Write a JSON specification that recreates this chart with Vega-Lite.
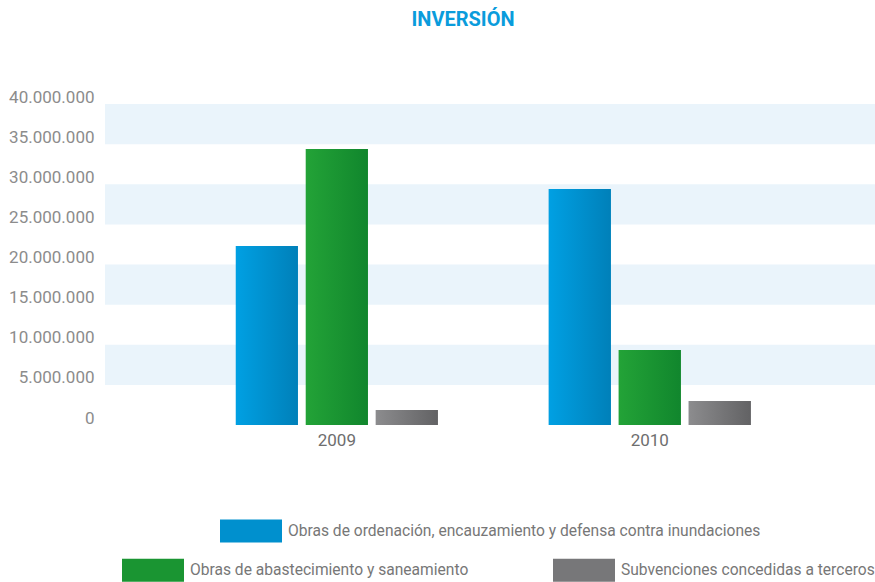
{
  "$schema": "https://vega.github.io/schema/vega-lite/v6.json",
  "width": 770,
  "height": 321,
  "autosize": "none",
  "padding": {"left": 105, "top": 104, "right": 0, "bottom": 157},
  "background": "white",
  "title": {
    "text": "INVERSIÓN",
    "color": "#0A9CDC",
    "fontSize": 20,
    "font": "Roboto",
    "fontWeight": "bold",
    "offset": 58,
    "dx": -27,
    "anchor": "middle",
    "frame": "group"
  },
  "datasets": {
    "inv": [
      {"anio": "2009", "serie": "Obras de ordenación, encauzamiento y defensa contra inundaciones", "valor": 22300000},
      {"anio": "2009", "serie": "Obras de abastecimiento y saneamiento", "valor": 34400000},
      {"anio": "2009", "serie": "Subvenciones concedidas a terceros", "valor": 1870000},
      {"anio": "2010", "serie": "Obras de ordenación, encauzamiento y defensa contra inundaciones", "valor": 29400000},
      {"anio": "2010", "serie": "Obras de abastecimiento y saneamiento", "valor": 9350000},
      {"anio": "2010", "serie": "Subvenciones concedidas a terceros", "valor": 3000000}
    ],
    "bands": [
      {"desde": 5000000, "hasta": 10000000},
      {"desde": 15000000, "hasta": 20000000},
      {"desde": 25000000, "hasta": 30000000},
      {"desde": 35000000, "hasta": 40000000}
    ]
  },
  "layer": [
    {
      "data": {"name": "bands"},
      "mark": {"type": "rect", "color": "#EAF4FB"},
      "encoding": {
        "y": {"field": "desde", "type": "quantitative", "scale": {"domain": [0, 40000000], "nice": false}, "title": null},
        "y2": {"field": "hasta"},
        "x": {"value": 0},
        "x2": {"value": "width"}
      }
    },
    {
      "data": {"name": "inv"},
      "transform": [{"filter": "datum.serie === 'Obras de ordenación, encauzamiento y defensa contra inundaciones'"}],
      "mark": {"type": "bar"},
      "encoding": {
        "x": {"field": "anio", "type": "nominal", "scale": {"paddingInner": 0.3546, "paddingOuter": 0.4076, "align": 0.513}, "axis": {"labelAngle": 0, "domain": false, "ticks": false, "labelColor": "#6E6E6E", "labelFontSize": 17, "labelFont": "Roboto", "labelFontWeight": "normal", "labelPadding": 7, "title": null}},
        "xOffset": {"field": "serie", "type": "nominal", "scale": {"domain": ["Obras de ordenación, encauzamiento y defensa contra inundaciones", "Obras de abastecimiento y saneamiento", "Subvenciones concedidas a terceros"], "paddingInner": 0.114, "paddingOuter": 0}},
        "y": {"field": "valor", "type": "quantitative", "title": null},
        "color": {
          "field": "serie", "type": "nominal",
          "scale": {"domain": ["Obras de ordenación, encauzamiento y defensa contra inundaciones"], "range": ["#0090CE"]},
          "legend": {
            "orient": "none", "legendX": 115, "legendY": 396, "direction": "horizontal", "title": null,
            "symbolType": "M-1,-0.37H1V0.37H-1Z", "symbolSize": 3844, "symbolStrokeWidth": 0,
            "labelFontSize": 15.6, "labelFont": "Roboto", "labelColor": "#777777", "labelOffset": 6, "labelLimit": 600, "padding": 0
          }
        }
      }
    },
    {
      "data": {"name": "inv"},
      "transform": [{"filter": "datum.serie !== 'Obras de ordenación, encauzamiento y defensa contra inundaciones'"}],
      "mark": {"type": "bar"},
      "encoding": {
        "x": {"field": "anio", "type": "nominal"},
        "xOffset": {"field": "serie", "type": "nominal"},
        "y": {"field": "valor", "type": "quantitative", "title": null},
        "color": {
          "field": "serie", "type": "nominal",
          "scale": {"domain": ["Obras de abastecimiento y saneamiento", "Subvenciones concedidas a terceros"], "range": ["#1A9532", "#777779"]},
          "legend": {
            "orient": "none", "legendX": 17, "legendY": 435, "direction": "horizontal", "title": null,
            "symbolType": "M-1,-0.37H1V0.37H-1Z", "symbolSize": 3844, "symbolStrokeWidth": 0,
            "labelFontSize": 15.6, "labelFont": "Roboto", "labelColor": "#777777", "labelOffset": 6, "labelLimit": 600, "columnPadding": 84, "padding": 0
          }
        }
      }
    },
    {
      "data": {"name": "inv"},
      "transform": [{"filter": "datum.serie === 'Obras de ordenación, encauzamiento y defensa contra inundaciones'"}],
      "mark": {"type": "bar", "fill": {"gradient": "linear", "x1": 0, "y1": 0, "x2": 1, "y2": 0, "stops": [{"offset": 0, "color": "#00A0E3"}, {"offset": 1, "color": "#0080B9"}]}},
      "encoding": {
        "x": {"field": "anio", "type": "nominal"},
        "xOffset": {"field": "serie", "type": "nominal"},
        "y": {"field": "valor", "type": "quantitative", "title": null}
      }
    },
    {
      "data": {"name": "inv"},
      "transform": [{"filter": "datum.serie === 'Obras de abastecimiento y saneamiento'"}],
      "mark": {"type": "bar", "fill": {"gradient": "linear", "x1": 0, "y1": 0, "x2": 1, "y2": 0, "stops": [{"offset": 0, "color": "#23A337"}, {"offset": 1, "color": "#11862D"}]}},
      "encoding": {
        "x": {"field": "anio", "type": "nominal"},
        "xOffset": {"field": "serie", "type": "nominal"},
        "y": {"field": "valor", "type": "quantitative", "title": null}
      }
    },
    {
      "data": {"name": "inv"},
      "transform": [{"filter": "datum.serie === 'Subvenciones concedidas a terceros'"}],
      "mark": {"type": "bar", "fill": {"gradient": "linear", "x1": 0, "y1": 0, "x2": 1, "y2": 0, "stops": [{"offset": 0, "color": "#8C8C8E"}, {"offset": 1, "color": "#626264"}]}},
      "encoding": {
        "x": {"field": "anio", "type": "nominal"},
        "xOffset": {"field": "serie", "type": "nominal"},
        "y": {"field": "valor", "type": "quantitative", "title": null}
      }
    }
  ],
  "resolve": {"scale": {"color": "independent"}},
  "config": {
    "view": {"stroke": null},
    "axisY": {
      "values": [0, 5000000, 10000000, 15000000, 20000000, 25000000, 30000000, 35000000, 40000000],
      "labelExpr": "replace(format(datum.value, ','), regexp(',', 'g'), '.')",
      "domain": false,
      "ticks": false,
      "grid": false,
      "labelColor": "#8C8C8C",
      "labelFontSize": 17,
      "labelFont": "Roboto",
      "labelPadding": 11,
      "labelBaseline": "bottom",
      "labelOffset": 2
    }
  }
}
